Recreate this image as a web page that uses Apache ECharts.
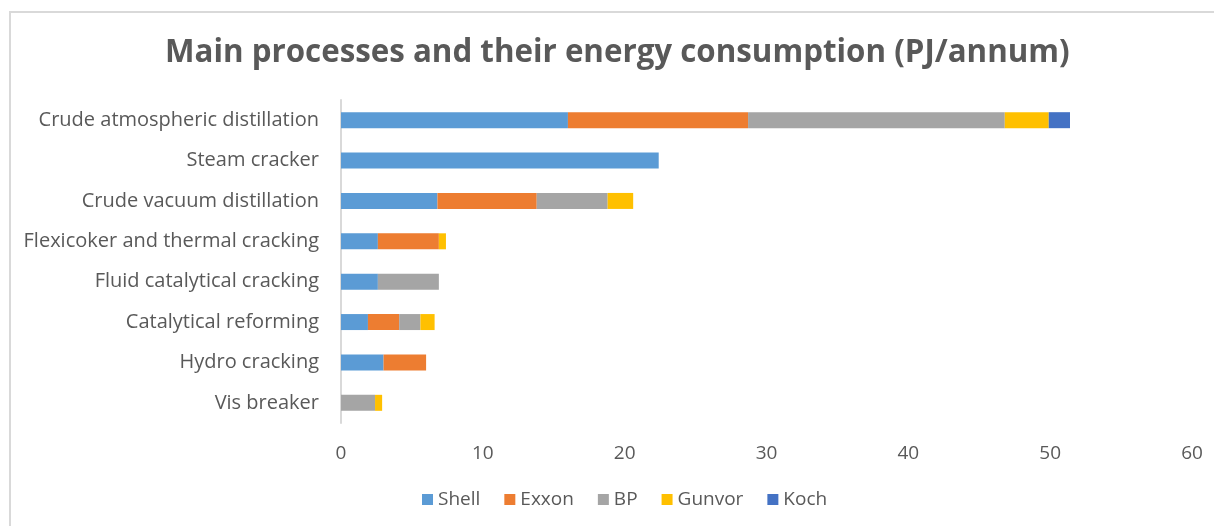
<!DOCTYPE html>
<html>
<head>
<meta charset="utf-8">
<script src="https://cdn.jsdelivr.net/npm/echarts@6/dist/echarts.min.js"></script>
<style>html,body{margin:0;padding:0;background:#fff;}#chart{width:1214px;height:526px;}</style>
</head>
<body>
<div id="chart"></div>
<script>
const categories = ["Crude atmospheric distillation","Steam cracker","Crude vacuum distillation","Flexicoker and thermal cracking","Fluid catalytical cracking","Catalytical reforming","Hydro cracking","Vis breaker"];
const shell  = [16.0, 22.4, 6.8, 2.6, 2.6, 1.9, 3.0, 0];
const exxon  = [12.7, 0, 7.0, 4.3, 0, 2.2, 3.0, 0];
const bp     = [18.1, 0, 5.0, 0, 4.3, 1.5, 0, 2.4];
const gunvor = [3.1, 0, 1.8, 0.5, 0, 1.0, 0, 0.5];
const koch   = [1.5, 0, 0, 0, 0, 0, 0, 0];
const xTicks = [0, 10, 20, 30, 40, 50, 60];
const seriesNames = ["Shell","Exxon","BP","Gunvor","Koch"];
const seriesData = [shell, exxon, bp, gunvor, koch];
const colors = ["#5B9BD5","#ED7D31","#A5A5A5","#FFC000","#4472C4"];

const chart = echarts.init(document.getElementById('chart'), null, {renderer:'canvas'});
const font = "'Open Sans', sans-serif";
chart.setOption({
  animation: false,
  backgroundColor: '#fff',
  color: colors,
  textStyle: {fontFamily: font},
  title: {
    text: 'Main processes and their energy consumption (PJ/annum)',
    left: 160, top: 33,
    textStyle: {fontFamily: font, fontSize: 31.3, fontWeight: 'bold', color: '#595959'}
  },
  graphic: [
    {type:'polyline', shape:{points:[[10,526],[10,12],[1214,12]]}, style:{stroke:'#d9d9d9', lineWidth:2, fill:null}}
  ],
  legend: {
    bottom: 12, left: 417,
    itemWidth: 11, itemHeight: 11, itemGap: 24,
    icon: 'rect',
    textStyle: {fontFamily: font, fontSize: 19, color: '#595959', padding:[0,0,0,0]},
    data: seriesNames
  },
  grid: {left: 341, right: 22, top: 100, bottom: 103, containLabel: false},
  xAxis: {
    type: 'value', min: 0, max: 60, interval: 10,
    axisLine: {show:false}, axisTick:{show:false},
    splitLine: {show:false},
    axisLabel: {fontFamily: font, fontSize: 19, color: '#595959', margin: 21,
      formatter: v => xTicks.includes(v) ? String(v) : ''}
  },
  yAxis: {
    type: 'category', inverse: true, data: categories,
    axisLine: {show:true, lineStyle:{color:'#d9d9d9', width:2}},
    axisTick: {show:false},
    axisLabel: {fontFamily: font, fontSize: 20, color: '#595959', margin: 22}
  },
  series: seriesNames.map((n,i)=>({
    name: n, type: 'bar', stack: 'total', barWidth: 16,
    data: seriesData[i].map(v => v === 0 ? null : v),
    itemStyle: {color: colors[i]}
  }))
});
</script>
</body>
</html>
